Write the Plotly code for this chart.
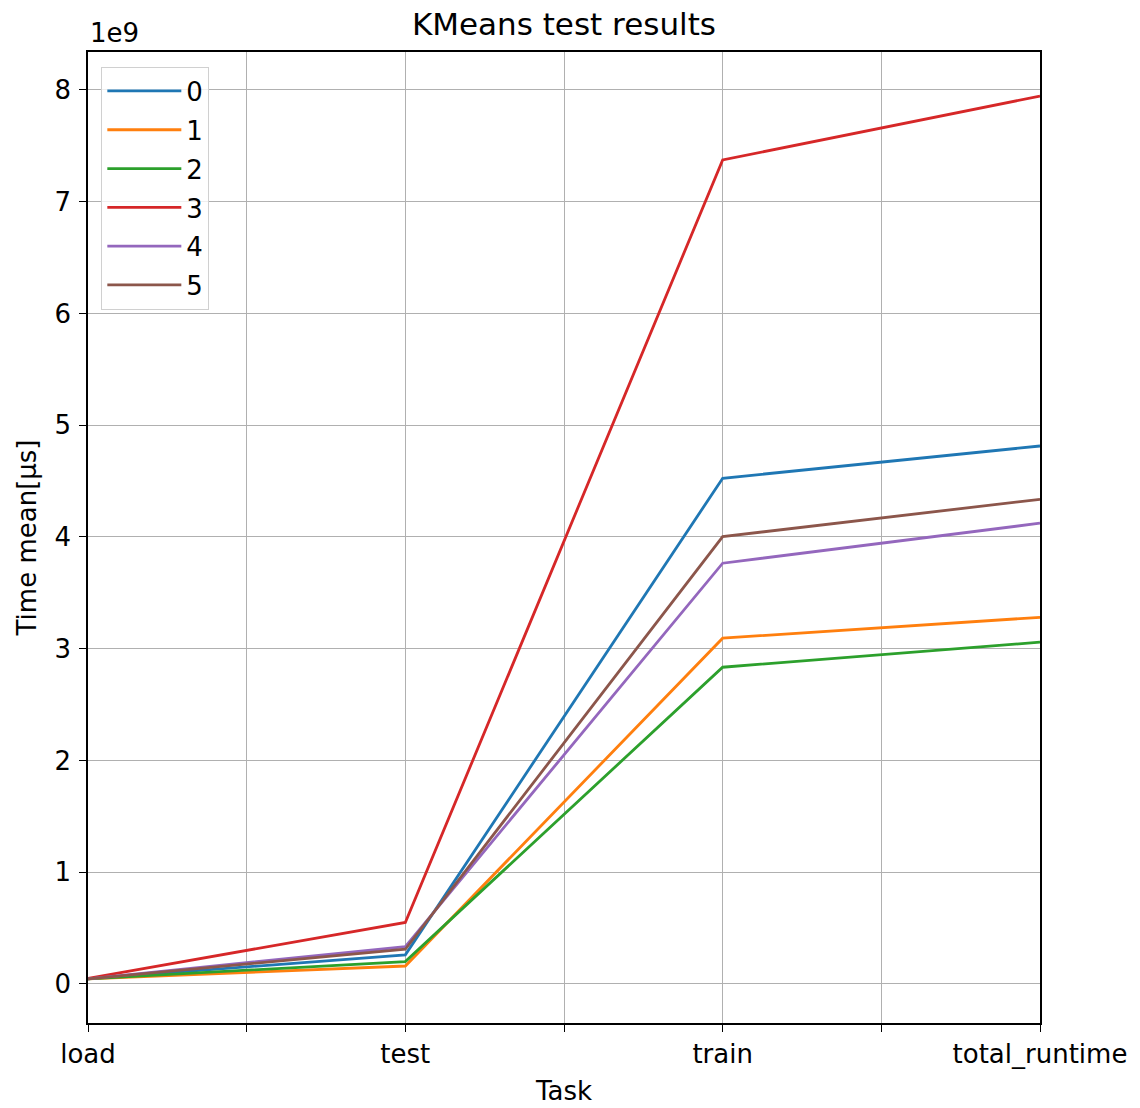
import plotly.graph_objects as go

tasks = ["load", "test", "train", "total_runtime"]
series_names = ["0", "1", "2", "3", "4", "5"]
values = {
    "0": [0.045e9, 0.26e9, 4.525e9, 4.814e9],
    "1": [0.045e9, 0.16e9, 3.094e9, 3.281e9],
    "2": [0.045e9, 0.20e9, 2.834e9, 3.058e9],
    "3": [0.050e9, 0.55e9, 7.374e9, 7.946e9],
    "4": [0.045e9, 0.334e9, 3.765e9, 4.123e9],
    "5": [0.045e9, 0.31e9, 4.003e9, 4.337e9],
}
colors = ["#1f77b4", "#ff7f0e", "#2ca02c", "#d62728", "#9467bd", "#8c564b"]
ytick_vals = [0, 1e9, 2e9, 3e9, 4e9, 5e9, 6e9, 7e9, 8e9]
ytick_text = ["0", "1", "2", "3", "4", "5", "6", "7", "8"]

FONT = "DejaVu Sans"
FS = 26
fig = go.Figure()
xpos = list(range(len(tasks)))
for name, c in zip(series_names, colors):
    fig.add_trace(go.Scatter(x=xpos, y=values[name], mode="lines", name=name,
                             legendgroup=name,
                             line=dict(color=c, width=2.8)))

xt_vals = [i * 0.5 for i in range(2 * len(tasks) - 1)]
xt_text = [tasks[int(v)] if v == int(v) else "" for v in xt_vals]

fig.update_layout(
    width=1140, height=1108,
    margin=dict(l=88, r=100, t=52, b=85),
    paper_bgcolor="white", plot_bgcolor="white",
    font=dict(family=FONT, size=FS, color="black"),
    title=dict(text="KMeans test results", x=0.4947, xanchor="center",
               y=1 - 24 / 1108, yanchor="middle", font=dict(size=31)),
    showlegend=True,
    legend=dict(x=0.014, y=0.985, xanchor="left", yanchor="top",
                bgcolor="rgba(255,255,255,0.8)", bordercolor="#d0d0d0", borderwidth=1,
                tracegroupgap=2, itemwidth=74, font=dict(size=FS)),
    xaxis=dict(range=[0, 3], tickvals=xt_vals, ticktext=xt_text,
               showgrid=True, gridcolor="#b0b0b0", gridwidth=1,
               ticks="outside", ticklen=7, tickcolor="black",
               showline=True, linecolor="black", linewidth=1.5, mirror=True,
               zeroline=False, tickfont=dict(size=FS), automargin=False,
               title=dict(text="Task", standoff=14, font=dict(size=FS))),
    yaxis=dict(range=[-0.35e9, 8.34e9], tickvals=ytick_vals, ticktext=ytick_text,
               showgrid=True, gridcolor="#b0b0b0", gridwidth=1,
               ticks="outside", ticklen=7, tickcolor="black",
               showline=True, linecolor="black", linewidth=1.5, mirror=True,
               zeroline=False, tickfont=dict(size=FS), ticklabelstandoff=3,
               automargin=False,
               title=dict(text="Time mean[µs]", standoff=10, font=dict(size=FS))),
)
fig.add_annotation(text="1e9", xref="paper", yref="paper", x=0, y=1,
                   xanchor="left", yanchor="bottom", yshift=2, showarrow=False,
                   font=dict(size=FS))
fig.write_html("out.html")
